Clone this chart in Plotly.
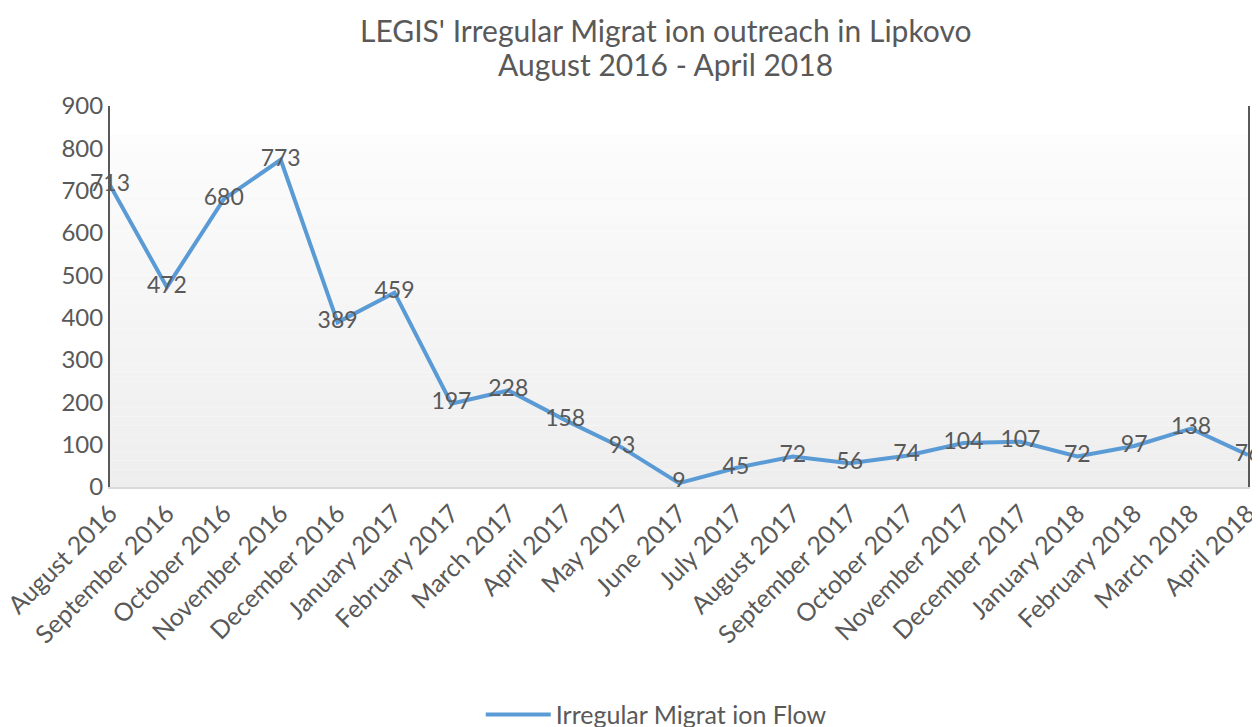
import plotly.graph_objects as go

months = ["August 2016", "September 2016", "October 2016", "November 2016", "December 2016",
          "January 2017", "February 2017", "March 2017", "April 2017", "May 2017", "June 2017",
          "July 2017", "August 2017", "September 2017", "October 2017", "November 2017",
          "December 2017", "January 2018", "February 2018", "March 2018", "April 2018"]
flow = [713, 472, 680, 773, 389, 459, 197, 228, 158, 93, 9, 45, 72, 56, 74, 104, 107, 72, 97, 138, 76]
y_ticks = [0, 100, 200, 300, 400, 500, 600, 700, 800, 900]

FONT = "Lato"
GRAY = "#595959"

fig = go.Figure()
fig.add_trace(go.Scatter(
    x=months, y=flow, mode="lines+text", name="Irregular Migrat ion Flow",
    text=[str(v) for v in flow], textposition="middle center",
    textfont=dict(family=FONT, size=23, color=GRAY),
    line=dict(color="#5B9BD5", width=4), cliponaxis=False,
))

# vertical gradient background strips
shapes = []
n = 40
top = 0.924
for i in range(n):
    y0 = top * i / n
    y1 = top * (i + 1) / n
    t = i / (n - 1)
    c = int(round(0xee + (0xfc - 0xee) * t))
    shapes.append(dict(type="rect", xref="paper", yref="paper", x0=0, x1=1, y0=y0, y1=y1,
                       fillcolor=f"rgb({c},{c},{c})", line=dict(width=0), layer="below"))

annotations = [
    dict(text="LEGIS' Irregular Migrat ion outreach in Lipkovo", xref="paper", yref="paper",
         x=0.4877, y=1.1995, xanchor="center", yanchor="middle", showarrow=False,
         font=dict(family=FONT, size=30, color=GRAY)),
    dict(text="August 2016 - April 2018", xref="paper", yref="paper",
         x=0.4877, y=1.110, xanchor="center", yanchor="middle", showarrow=False,
         font=dict(family=FONT, size=30, color=GRAY)),
]

fig.update_layout(
    width=1252, height=719,
    margin=dict(l=102, r=12, t=98, b=240, autoexpand=False),
    paper_bgcolor="white", plot_bgcolor="white",
    shapes=shapes, annotations=annotations,
    font=dict(family=FONT, color=GRAY),
    showlegend=True,
    legend=dict(orientation="h", x=0.48, xanchor="center", y=-0.598, yanchor="middle",
                font=dict(family=FONT, size=25, color=GRAY), itemwidth=65),
    xaxis=dict(type="category", tickangle=-45, tickfont=dict(family=FONT, size=25, color=GRAY),
               showgrid=False, showline=True, linecolor="#d9d9d9", linewidth=2,
               ticks="", range=[0, len(months) - 1], zeroline=False, automargin=False),
    yaxis=dict(range=[0, 900], tickvals=y_ticks, tickfont=dict(family=FONT, size=24, color=GRAY),
               showgrid=False, showline=True, linecolor=GRAY, linewidth=2, mirror=True,
               ticks="", zeroline=False, automargin=False),
)

fig.write_html("out.html")
